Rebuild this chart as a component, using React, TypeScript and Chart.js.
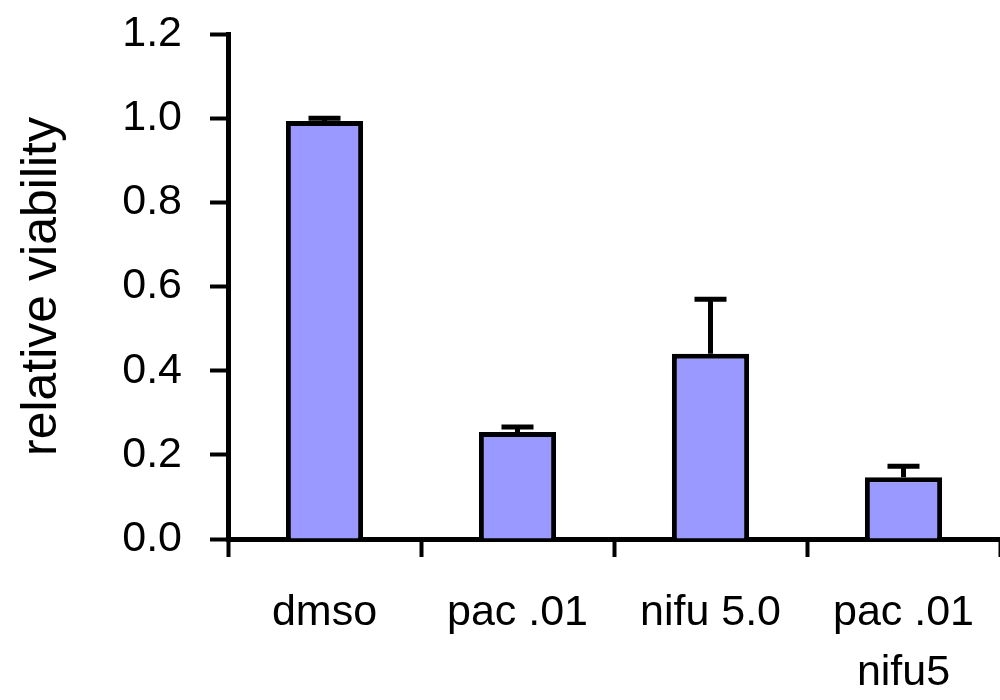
import React, { useEffect, useRef } from "react";
import { Chart, registerables } from "chart.js";

Chart.register(...registerables);

const categories: (string | string[])[] = ["dmso", "pac .01", "nifu 5.0", ["pac .01", "nifu5"]];
const viability = [0.993, 0.254, 0.44, 0.147];
const errors = [0.007, 0.012, 0.13, 0.026];
const yTicks = [0, 0.2, 0.4, 0.6, 0.8, 1.0, 1.2];

const FONT = "'Liberation Sans', Arial, sans-serif";

const errorBarPlugin = {
  id: "errorBars",
  afterDatasetsDraw(chart: any) {
    const meta = chart.getDatasetMeta(0);
    const yScale = chart.scales.y;
    const ctx = chart.ctx;
    ctx.save();
    ctx.strokeStyle = "#000";
    ctx.lineWidth = 5;
    meta.data.forEach((bar: any, i: number) => {
      const v = viability[i];
      const e = errors[i];
      const yBase = yScale.getPixelForValue(v);
      const yTop = yScale.getPixelForValue(v + e);
      const x = bar.x;
      ctx.beginPath();
      ctx.moveTo(x, yBase);
      ctx.lineTo(x, yTop);
      ctx.moveTo(x - 16, yTop);
      ctx.lineTo(x + 16, yTop);
      ctx.stroke();
    });
    ctx.restore();
  },
};

export default function App() {
  const ref = useRef<HTMLCanvasElement>(null);
  useEffect(() => {
    if (!ref.current) return;
    const chart = new Chart(ref.current, {
      type: "bar",
      data: {
        labels: categories,
        datasets: [
          {
            data: viability,
            backgroundColor: "#9999FF",
            borderColor: "#000",
            borderWidth: 5,
            barPercentage: 0.4,
            categoryPercentage: 1,
          },
        ],
      },
      options: {
        animation: false,
        responsive: false,
        layout: { padding: { top: 34, left: 0, right: 0, bottom: 0 } },
        plugins: { legend: { display: false }, tooltip: { enabled: false } },
        scales: {
          x: {
            afterFit: (axis: any) => {
              axis.height = 161;
              axis.paddingLeft = 0;
              axis.paddingRight = 0;
            },
            grid: {
              drawOnChartArea: false,
              drawTicks: true,
              tickLength: 18,
              tickWidth: 4,
              tickColor: "#000",
              offset: true,
            },
            border: { display: true, color: "#000", width: 5 },
            ticks: {
              color: "#000",
              padding: 26,
              maxRotation: 0,
              font: { family: FONT, size: 43, lineHeight: 1.4 },
            },
          },
          y: {
            min: 0,
            max: 1.2,
            afterFit: (axis: any) => {
              axis.width = 228;
              axis.paddingTop = 0;
              axis.paddingBottom = 0;
            },
            afterBuildTicks: (axis: any) => {
              axis.ticks = yTicks.map((v) => ({ value: v }));
            },
            grid: {
              drawOnChartArea: false,
              drawTicks: true,
              tickLength: 18,
              tickWidth: 4,
              tickColor: "#000",
            },
            border: { display: true, color: "#000", width: 5 },
            ticks: {
              color: "#000",
              padding: 28,
              font: { family: FONT, size: 43 },
              callback: (v: any) => Number(v).toFixed(1),
            },
            title: {
              display: true,
              text: "relative viability",
              color: "#000",
              font: { family: FONT, size: 50, lineHeight: 1.2 },
              padding: { top: 12, bottom: 0 },
            },
          },
        },
      },
      plugins: [errorBarPlugin],
    });
    return () => chart.destroy();
  }, []);
  return (
    <div style={{ position: "fixed", left: 0, top: 0, width: 1000, height: 700, background: "#fff" }}>
      <canvas ref={ref} width={1000} height={700} />
    </div>
  );
}
